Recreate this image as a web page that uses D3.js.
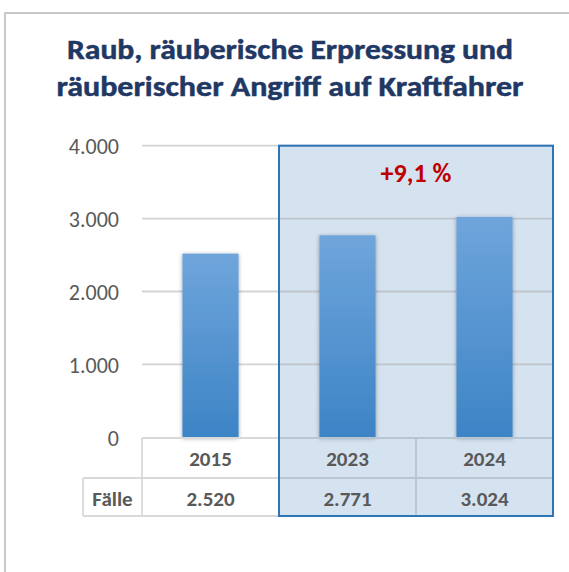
<!DOCTYPE html>
<html>
<head>
<meta charset="utf-8">
<script src="https://cdn.jsdelivr.net/npm/d3@7"></script>
<style>
  html, body { margin: 0; padding: 0; background: #fff; }
  svg { display: block; }
</style>
</head>
<body>
<svg id="chart" width="569" height="572"></svg>
<script>
const titleLines = ["Raub, räuberische Erpressung und", "räuberischer Angriff auf Kraftfahrer"];
const categories = ["2015", "2023", "2024"];
const values = [2520, 2771, 3024];
const valueLabels = ["2.520", "2.771", "3.024"];
const rowLabel = "Fälle";
const yTicks = [0, 1000, 2000, 3000, 4000];
const yTickLabels = ["0", "1.000", "2.000", "3.000", "4.000"];
const highlighted = ["2023", "2024"];
const changeLabel = "+9,1 %";

const svg = d3.select("#chart");
const FONT = "Carlito, Lato, 'Open Sans', sans-serif";
const TXT = "#595959";

const x = d3.scaleBand().domain(categories).range([142, 553]).padding(0);
const y = d3.scaleLinear().domain([0, 4000]).range([437.3, 145.7]);
const barW = x.bandwidth() * 0.41;
const tableTop = 438, rowMid = 478, tableBottom = 516, labelLeft = 83;

// defs
const defs = svg.append("defs");
const grad = defs.append("linearGradient").attr("id", "barGrad")
  .attr("x1", 0).attr("y1", 0).attr("x2", 0).attr("y2", 1);
grad.append("stop").attr("offset", "0%").attr("stop-color", "#6fa5db");
grad.append("stop").attr("offset", "100%").attr("stop-color", "#3d84c6");
const f = defs.append("filter").attr("id", "shadow")
  .attr("x", "-30%").attr("y", "-10%").attr("width", "160%").attr("height", "120%");
f.append("feDropShadow").attr("dx", 0).attr("dy", 1).attr("stdDeviation", 2.2)
  .attr("flood-color", "#000").attr("flood-opacity", 0.35);

// frame
svg.append("path").attr("d", "M5,572 L5,13 L569,13")
  .attr("fill", "none").attr("stroke", "#c8c8c8").attr("stroke-width", 2);

// title
svg.append("g").selectAll("text").data(titleLines).join("text")
  .attr("x", 290).attr("y", (d, i) => 59 + i * 37)
  .attr("text-anchor", "middle")
  .attr("font-family", FONT).attr("font-weight", "bold").attr("font-size", 28.5)
  .attr("fill", "#1f3864")
  .attr("stroke", "#1f3864").attr("stroke-width", 0.5)
  .attr("textLength", (d, i) => [446, 467][i])
  .attr("lengthAdjust", "spacingAndGlyphs")
  .text(d => d);

// highlight fill
const hx0 = x(highlighted[0]), hx1 = x(highlighted[highlighted.length - 1]) + x.bandwidth();
svg.append("rect").attr("x", hx0).attr("y", y(4000))
  .attr("width", hx1 - hx0).attr("height", tableBottom - y(4000))
  .attr("fill", "#d5e2ef");

// gridlines
svg.append("g").selectAll("line").data(yTicks.filter(d => d > 0)).join("line")
  .attr("x1", 142).attr("x2", 553)
  .attr("y1", d => y(d)).attr("y2", d => y(d))
  .attr("stroke", "#a8a8a8").attr("stroke-opacity", 0.5).attr("stroke-width", 1.8);

// y axis labels
const yAxis = d3.axisLeft(y).tickValues(yTicks)
  .tickFormat((d, i) => yTickLabels[yTicks.indexOf(d)]).tickSize(0).tickPadding(0);
const ya = svg.append("g").attr("transform", "translate(119,0)").call(yAxis);
ya.select(".domain").remove();
ya.selectAll("text").attr("font-family", FONT).attr("font-size", 22)
  .attr("fill", TXT).attr("dy", "0.36em");

// bars
svg.append("g").selectAll("rect").data(categories).join("rect")
  .attr("x", d => x(d) + (x.bandwidth() - barW) / 2)
  .attr("width", barW)
  .attr("y", (d, i) => y(values[i]))
  .attr("height", (d, i) => y(0) - y(values[i]))
  .attr("fill", "url(#barGrad)")
  .attr("filter", "url(#shadow)");

// table lines
const tl = svg.append("g").attr("stroke-width", 1.8).attr("fill", "none");
const lineColor = xv => (xv >= hx0 ? "#b7c5d3" : "#d9d9d9");
function hline(yv, xa) {
  tl.append("line").attr("x1", xa).attr("x2", hx0).attr("y1", yv).attr("y2", yv).attr("stroke", "#d9d9d9");
  tl.append("line").attr("x1", hx0).attr("x2", hx1).attr("y1", yv).attr("y2", yv).attr("stroke", "#b7c5d3");
}
hline(tableTop, 142);
hline(rowMid, labelLeft);
hline(tableBottom, labelLeft);
const vx = [142].concat(categories.map(c => x(c) + x.bandwidth()));
vx.forEach(v => {
  tl.append("line").attr("x1", v).attr("x2", v).attr("y1", tableTop).attr("y2", tableBottom)
    .attr("stroke", lineColor(v));
});
tl.append("line").attr("x1", labelLeft).attr("x2", labelLeft).attr("y1", rowMid).attr("y2", tableBottom)
  .attr("stroke", "#d9d9d9");

// highlight border
svg.append("rect").attr("x", hx0).attr("y", y(4000))
  .attr("width", hx1 - hx0).attr("height", tableBottom - y(4000))
  .attr("fill", "none").attr("stroke", "#2e75b6").attr("stroke-width", 2);

// table text
const tt = svg.append("g").attr("font-family", FONT).attr("font-weight", "bold")
  .attr("font-size", 21).attr("fill", TXT).attr("text-anchor", "middle");
tt.selectAll("text.cat").data(categories).join("text").attr("class", "cat")
  .attr("x", d => x(d) + x.bandwidth() / 2).attr("y", (tableTop + rowMid) / 2).attr("dy", "0.36em")
  .text(d => d);
tt.selectAll("text.val").data(valueLabels).join("text").attr("class", "val")
  .attr("x", (d, i) => x(categories[i]) + x.bandwidth() / 2).attr("y", (rowMid + tableBottom) / 2 + 1).attr("dy", "0.36em")
  .text(d => d);
tt.append("text").attr("x", (labelLeft + 142) / 2).attr("y", (rowMid + tableBottom) / 2 + 1).attr("dy", "0.36em")
  .text(rowLabel);

// change label
svg.append("text").attr("x", (hx0 + hx1) / 2).attr("y", 182)
  .attr("text-anchor", "middle").attr("font-family", FONT).attr("font-weight", "bold")
  .attr("font-size", 26).attr("fill", "#c00000").text(changeLabel);
</script>
</body>
</html>
